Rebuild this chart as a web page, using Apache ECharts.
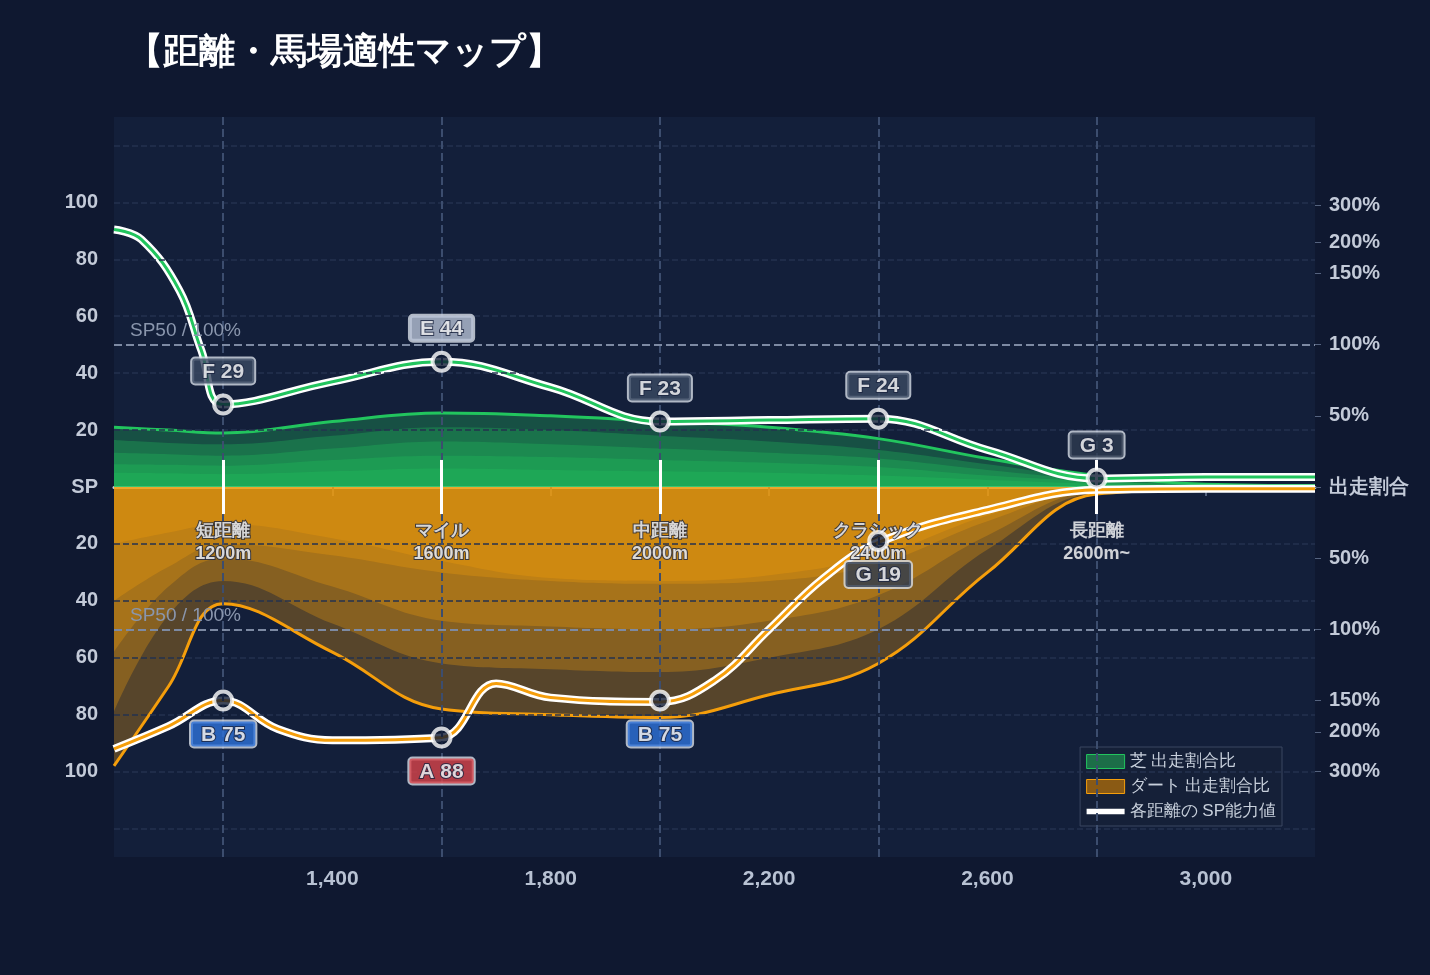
<!DOCTYPE html>
<html><head><meta charset="utf-8">
<script src="https://cdn.jsdelivr.net/npm/echarts@6/dist/echarts.min.js"></script>
<style>html,body{margin:0;background:#0f1830}#c{width:1430px;height:975px}</style>
</head><body><div id="c"></div>
<script>
const xs = [1000,1100,1200,1400,1600,1800,2000,2200,2400,2600,2800,3000,3200];
const turf1 = [21,20,19,23,26,25,23,21,17,10,4,1,0.5];
const turf2 = [16.5,15.5,15,18,21,20,18,16,13,8,3,1,0.5];
const turf3 = [12,11.5,11,13.5,16,15,13.5,12,10,6,2.5,0.8,0.4];
const turf4 = [8,7.8,7.5,9.5,11,10.5,9.5,8.5,7,4,2,0.6,0.3];
const turf5 = [5,4.8,4.5,5.5,6.5,6,5.5,5,4,2.5,1.2,0.4,0.2];
const dirt1 = [-20,-16,-13,-18,-26,-32,-33,-31,-24,-10,-1,-0.5,-0.3];
const dirt2 = [-40,-28,-20,-24,-30,-33,-34,-33,-27,-12,-1.2,-0.6,-0.4];
const dirt3 = [-58,-35,-25,-35,-47,-49,-50,-47,-38,-17,-1.5,-0.7,-0.5];
const dirt4 = [-79,-45,-33,-48,-62,-64,-65,-60,-50,-22,-2,-0.8,-0.6];
const dirt5 = [-98,-70,-41,-58,-78,-80,-81,-73,-62,-30,-2.5,-1,-0.7];
const turfSpX = [1000,1050,1120,1160,1200,1400,1600,1800,2000,2200,2400,2600,2800,3000,3200];
const turfSp  = [90.5,87,69,48,29,37,44,35,23,23.5,24,13,3,3.5,3.5];
const dirtSpX = [1000,1100,1200,1300,1400,1600,1700,1800,2000,2100,2200,2300,2400,2600,2800,3000,3200];
const dirtSp  = [-92,-84,-75,-85,-89,-88,-69,-74,-75.5,-68,-50,-32,-19.5,-8,-1,-0.6,-0.6];
const points = [[1200,29,'F 29'],[1600,44,'E 44'],[2000,23,'F 23'],[2400,24,'F 24'],[2800,3,'G 3'],
                [1200,-75,'B 75'],[1600,-88,'A 88'],[2000,-75,'B 75'],[2400,-19,'G 19']];
const zones = [[1200,'短距離\n1200m'],[1600,'マイル\n1600m'],[2000,'中距離\n2000m'],[2400,'クラシック\n2400m'],[2800,'長距離\n2600m~']];
const xTicks = [1400,1800,2200,2600,3000];
const leftTicks = [100,80,60,40,20,0,-20,-40,-60,-80,-100];
const rightVals = [99,86,75,50,25,0,-25,-50,-75,-86,-100];
const rightLabels = ['300%','200%','150%','100%','50%','出走割合','50%','100%','150%','200%','300%'];
const gradeBg = {A:'#d9434a',B:'#2e72d9',E:'#b6c0d4',F:'#3b4a63',G:'#2e3b50'};

const pair = (x,y)=>x.map((v,i)=>[v,y[i]]);
function area(name,data,color,op){
  return {type:'line',name,data:pair(xs,data),smooth:0.4,symbol:'none',
    lineStyle:{width:0},areaStyle:{color,opacity:op},z:1};
}
const series = [];
[turf1,turf2,turf3,turf4,turf5].forEach((d,i)=>series.push(area(i===0?'芝 出走割合比':'turf'+i,d,'#22c55e',0.3)));
series[0].lineStyle={width:3,color:'#22c55e'};
[dirt1,dirt2,dirt3,dirt4,dirt5].forEach((d,i)=>series.push(area(i===4?'ダート 出走割合比':'dirt'+i,d,'#f59e0b',0.3)));
series[9].lineStyle={width:3,color:'#f59e0b'};
function spLine(name,x,y,color){
  return [{type:'line',name,data:pair(x,y),smooth:0.4,symbol:'none',lineStyle:{width:8,color:'#ffffff'},z:3,color:'#fff'},
          {type:'line',name:name+'_c',data:pair(x,y),smooth:0.4,symbol:'none',lineStyle:{width:3,color},z:4}];
}
series.push(...spLine('各距離の SP能力値',turfSpX,turfSp,'#22c55e'));
series.push(...spLine('dirtsp',dirtSpX,dirtSp,'#f59e0b'));
// reference lines
series.push({type:'line',data:[],markLine:{silent:true,symbol:'none',
  data:[
    ...zones.map(z=>({xAxis:z[0],lineStyle:{type:'dashed',color:'#3c4d6e',width:2},label:{show:false}})),
    {yAxis:50,lineStyle:{type:'dashed',color:'#7d8aa3',width:2},label:{show:true,position:'insideStartTop',formatter:'SP50 / 100%',color:'#8a96ad',fontSize:19,distance:[16,4]}},
    {yAxis:-50,lineStyle:{type:'dashed',color:'#7d8aa3',width:2},label:{show:true,position:'insideStartTop',formatter:'SP50 / 100%',color:'#8a96ad',fontSize:19,distance:[16,4]}},
    ...zones.map(z=>[{coord:[z[0],9.5],lineStyle:{type:'solid',color:'#ffffff',width:3},label:{show:false}},{coord:[z[0],-9.5]}])
  ]},z:2});
series.push({type:'scatter',data:zones.map(z=>[z[0],-10,z[1]]),symbolSize:0,z:5,
  label:{show:true,position:'bottom',distance:4,formatter:p=>p.data[2],color:'#fff',fontSize:18,fontWeight:'bold',lineHeight:23,textBorderColor:'#1a2440',textBorderWidth:2}});
series.push({type:'scatter',z:10,symbol:'circle',symbolSize:18,
  itemStyle:{color:'#0f1a33',borderColor:'#fff',borderWidth:4},
  data:points.map(p=>({value:p,label:{
    position:(p[1]<0 ? 'bottom':'top'),distance:10,backgroundColor:gradeBg[p[2][0]]}})),
  label:{show:true,formatter:p=>p.data.value[2],color:'#fff',fontSize:21,fontWeight:'bold',
    borderColor:'#d8dee8',borderWidth:2,borderRadius:3,padding:[3,10,1,10],textBorderColor:'#1a2440',textBorderWidth:2}});

const chart = echarts.init(document.getElementById('c'));
chart.setOption({
  backgroundColor:'#0f1830',
  title:{text:'【距離・馬場適性マップ】',left:122,top:30,textStyle:{color:'#fff',fontSize:36,fontWeight:'bold'}},
  grid:{left:114,right:115,top:117,bottom:118,show:true,backgroundColor:'#131f3a',borderWidth:0},
  legend:{right:148,bottom:149,orient:'vertical',itemGap:8,itemWidth:38,itemHeight:14,
    backgroundColor:'#152038',borderColor:'#3a4660',borderWidth:1,padding:[6,6,6,6],
    textStyle:{color:'#c8d0dc',fontSize:17},
    data:[{name:'芝 出走割合比',icon:'rect',itemStyle:{color:'#1c6e48',borderColor:'#22c55e',borderWidth:1}},
          {name:'ダート 出走割合比',icon:'rect',itemStyle:{color:'#8a5a14',borderColor:'#f59e0b',borderWidth:1}},
          {name:'各距離の SP能力値',icon:'path://M0,0h40v6h-40z',itemStyle:{color:'#fff'}}]},
  xAxis:{type:'value',min:1000,max:3200,
    axisLine:{onZero:true,lineStyle:{color:'#c8ced8',width:3}},
    axisTick:{show:true,customValues:xTicks,length:9,inside:false,lineStyle:{color:'#55637f',width:2}},
    axisLabel:{customValues:xTicks,color:'#b8c2d3',fontSize:21,fontWeight:'bold',margin:12},
    splitLine:{show:false}},
  yAxis:[{type:'value',min:-130,max:130,
    axisLine:{show:false},axisTick:{show:false},
    axisLabel:{customValues:leftTicks,formatter:v=>v===0?'SP':Math.abs(v),color:'#c3cad8',fontSize:20,fontWeight:'bold',margin:16},
    splitLine:{show:false}},
    {type:'value',min:-130,max:130,position:'right',
    axisLine:{show:false},
    axisTick:{show:true,customValues:rightVals,length:6,lineStyle:{color:'#55637f'}},
    axisLabel:{customValues:rightVals,formatter:v=>rightLabels[rightVals.indexOf(v)]||'',
      color:'#c3cad8',fontSize:20,fontWeight:'bold',margin:14,
      rich:{}},
    splitLine:{show:false}}],
  series:[
    {type:'line',data:[],markLine:{silent:true,symbol:'none',label:{show:false},
      lineStyle:{type:'dashed',color:'#24324f',width:1.5},
      data:[120,100,80,60,40,20,-20,-40,-60,-80,-100,-120].map(v=>({yAxis:v}))},z:0},
    ...series]
});
</script></body></html>
